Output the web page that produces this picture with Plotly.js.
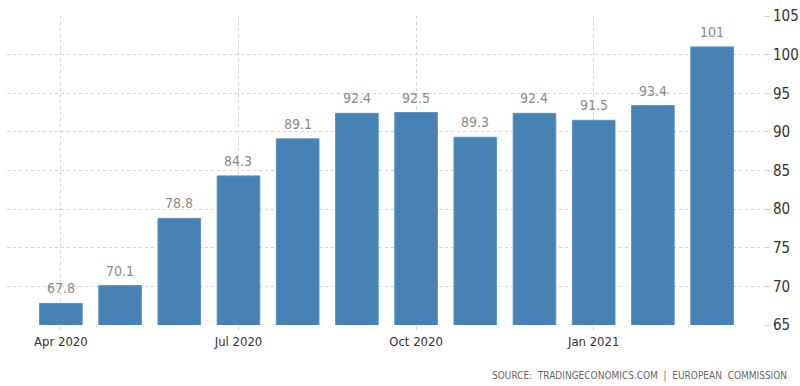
<!DOCTYPE html>
<html>
<head>
<meta charset="utf-8">
<script src="https://cdn.plot.ly/plotly-3.0.1.min.js"></script>
<style>
html,body{margin:0;padding:0;background:#fff;}
#chart{width:800px;height:386px;}
</style>
</head>
<body>
<div id="chart"></div>
<script>
var months = ['Apr 2020','May 2020','Jun 2020','Jul 2020','Aug 2020','Sep 2020','Oct 2020','Nov 2020','Dec 2020','Jan 2021','Feb 2021','Mar 2021'];
var values = [67.8, 70.1, 78.8, 84.3, 89.1, 92.4, 92.5, 89.3, 92.4, 91.5, 93.4, 101];
var xTickLabels = ['Apr 2020','Jul 2020','Oct 2020','Jan 2021'];
var yTicks = [65, 70, 75, 80, 85, 90, 95, 100, 105];

var trace = {
  type: 'bar',
  x: months,
  y: values,
  width: 0.72,
  marker: {color: '#4682b4', line: {color: '#5b93c2', width: 1}},
  hoverinfo: 'x+y'
};

var labelFont = {family: 'DejaVu Sans Condensed, DejaVu Sans', size: 14, color: '#8a8a8a'};
var valueAnnotations = months.map(function(m, i){
  return {
    xref: 'x', yref: 'y', x: m, y: values[i],
    text: String(values[i]), showarrow: false,
    yanchor: 'bottom', yshift: 5,
    font: labelFont
  };
});

var layout = {
  width: 800, height: 386,
  margin: {l: 7, r: 37, t: 16, b: 61},
  paper_bgcolor: '#fff', plot_bgcolor: '#fff',
  showlegend: false,
  xaxis: {
    type: 'category',
    range: [-0.91, 11.86],
    tickmode: 'array',
    tickvals: xTickLabels,
    ticktext: xTickLabels,
    showgrid: true,
    gridcolor: '#d4d4d4',
    griddash: 'dot',
    gridwidth: 1,
    ticks: 'outside', ticklen: 4, tickcolor: '#d0d0d0',
    showline: false,
    zeroline: false,
    tickfont: {family: 'DejaVu Sans Condensed, DejaVu Sans', size: 13, color: '#333'}
  },
  yaxis: {
    side: 'right',
    range: [65, 105],
    tickmode: 'array',
    tickvals: yTicks,
    ticktext: yTicks.map(String),
    showgrid: true,
    gridcolor: '#d4d4d4',
    griddash: 'dot',
    gridwidth: 1,
    zeroline: false,
    showline: false,
    ticks: 'outside', ticklen: 6, tickcolor: '#d4d4d4',
    tickfont: {family: 'DejaVu Sans Condensed, DejaVu Sans', size: 15, color: '#333'}
  },
  annotations: valueAnnotations.concat([{
    xref: 'paper', yref: 'paper',
    x: 1.035, y: -0.165, xanchor: 'right', yanchor: 'middle',
    showarrow: false,
    text: 'SOURCE:&nbsp;&nbsp;TRADINGECONOMICS.COM&nbsp;&nbsp;|&nbsp;&nbsp;EUROPEAN&nbsp;&nbsp;COMMISSION',
    font: {family: 'DejaVu Sans Condensed, DejaVu Sans', size: 10, color: '#666'}
  }])
};

Plotly.newPlot('chart', [trace], layout, {displayModeBar: false, staticPlot: true});
</script>
</body>
</html>
